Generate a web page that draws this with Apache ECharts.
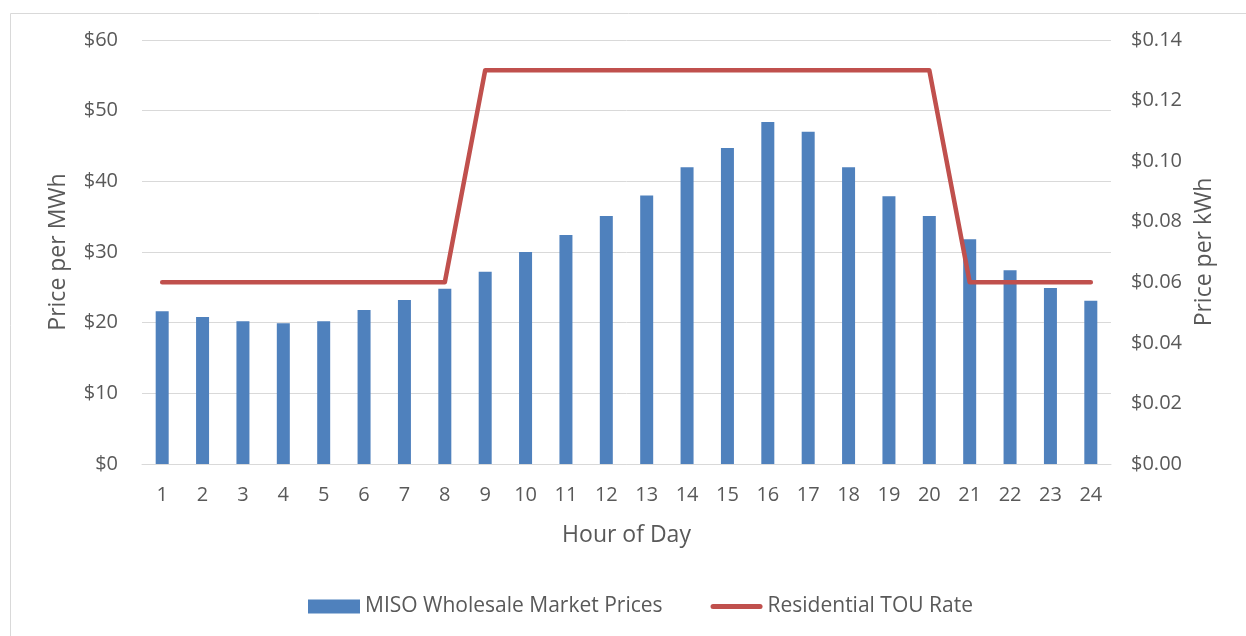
<!DOCTYPE html>
<html>
<head>
<meta charset="utf-8">
<script src="https://cdn.jsdelivr.net/npm/echarts@6/dist/echarts.min.js"></script>
<style>
  html, body { margin: 0; padding: 0; background: #fff; }
  #main { width: 1246px; height: 636px; }
</style>
</head>
<body>
<div id="main"></div>
<script>
// hours of the day
const hours = ['1','2','3','4','5','6','7','8','9','10','11','12','13','14','15','16','17','18','19','20','21','22','23','24'];
// MISO wholesale price, $/MWh
const wholesale = [21.6, 20.8, 20.2, 19.9, 20.2, 21.8, 23.2, 24.8, 27.2, 30.0, 32.4, 35.1, 38.0, 42.0, 44.7, 48.4, 47.0, 42.0, 37.9, 35.1, 31.8, 27.4, 24.9, 23.1];
// residential time-of-use rate, $/kWh
const touRate = [0.06, 0.06, 0.06, 0.06, 0.06, 0.06, 0.06, 0.06, 0.13, 0.13, 0.13, 0.13, 0.13, 0.13, 0.13, 0.13, 0.13, 0.13, 0.13, 0.13, 0.06, 0.06, 0.06, 0.06];

const font = '"Open Sans", "Liberation Sans", sans-serif';
const grey = '#595959';

var myChart = echarts.init(document.getElementById('main'));
myChart.setOption({
    animation: false,
    textStyle: { fontFamily: font },
    graphic: [{
        type: 'rect',
        left: 8, top: 11,
        shape: { width: 1260, height: 660 },
        style: { fill: 'none', stroke: '#d9d9d9', lineWidth: 1 }
    }],
    grid: { left: 142, right: 135, top: 40, bottom: 172 },
    legend: {
        left: 303,
        top: 591,
        itemGap: 48,
        itemWidth: 52,
        itemHeight: 14,
        textStyle: { fontSize: 21, color: grey, fontFamily: font },
        data: [
            { name: 'MISO Wholesale Market Prices', icon: 'path://M0,0H52V14H0Z' },
            // flat line icon with round ends, no marker
            { name: 'Residential TOU Rate', icon: 'path://M2.5,0H49.5A2.5,2.5,0,0,1,49.5,5H2.5A2.5,2.5,0,0,1,2.5,0Z' }
        ]
    },
    xAxis: {
        type: 'category',
        data: hours,
        name: 'Hour of Day',
        nameLocation: 'middle',
        nameGap: 60,
        nameTextStyle: { fontSize: 23, color: grey },
        axisTick: { show: false },
        axisLine: { lineStyle: { color: '#d9d9d9' } },
        axisLabel: { fontSize: 20, color: grey, margin: 21 }
    },
    yAxis: [{
        type: 'value',
        min: 0, max: 60, interval: 10,
        name: 'Price per MWh',
        nameLocation: 'middle',
        nameGap: 72,
        nameTextStyle: { fontSize: 23, color: grey },
        axisLabel: { fontSize: 20, color: grey, margin: 24, formatter: v => '$' + v },
        splitLine: { lineStyle: { color: '#d9d9d9' } }
    }, {
        type: 'value',
        min: 0, max: 0.14, interval: 0.02,
        name: 'Price per kWh',
        nameLocation: 'middle',
        nameGap: 76,
        nameTextStyle: { fontSize: 23, color: grey },
        axisLabel: { fontSize: 20, color: grey, margin: 20, formatter: v => '$' + v.toFixed(2) },
        splitLine: { show: false }
    }],
    series: [{
        name: 'MISO Wholesale Market Prices',
        type: 'bar',
        data: wholesale,
        barWidth: 13,
        itemStyle: { color: '#4f81bd' }
    }, {
        name: 'Residential TOU Rate',
        type: 'line',
        yAxisIndex: 1,
        data: touRate,
        symbol: 'none',
        lineStyle: { color: '#c0504d', width: 4.5, cap: 'round', join: 'round' },
        itemStyle: { color: '#c0504d' }
    }]
});
</script>
</body>
</html>
